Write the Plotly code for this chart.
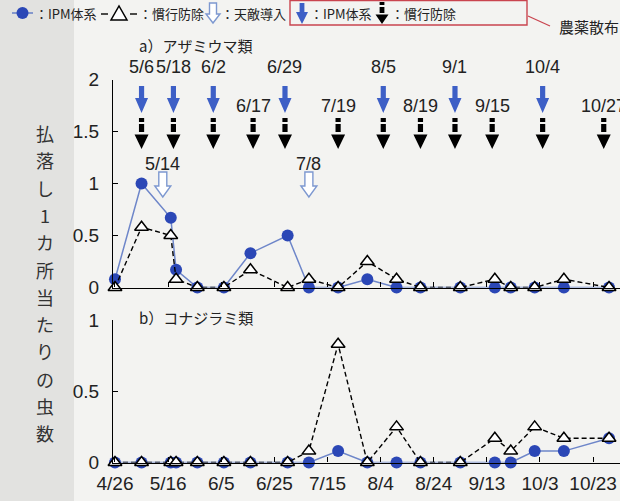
import plotly.graph_objects as go

YEAR = 2010
W, H = 620, 501


def d(md):
    m, dd = md.split("/")
    return f"{YEAR}-{int(m):02d}-{int(dd):02d}"


# ---------------- data ----------------
sample_dates = ["4/26", "5/6", "5/17", "5/19", "5/27", "6/6", "6/16", "6/30", "7/8", "7/19",
                "7/30", "8/10", "8/19", "9/3", "9/16", "9/22", "10/1", "10/12", "10/29"]

# a) thrips
thrips_ipm = [0.08, 1.0, 0.67, 0.17, 0, 0, 0.33, 0.5, 0, 0, 0.08, 0, 0, 0, 0, 0, 0, 0, 0]
thrips_conv = [0, 0.58, 0.5, 0.08, 0, 0, 0.17, 0, 0.08, 0, 0.25, 0.08, 0, 0, 0.08, 0, 0, 0.08, 0]
# b) whiteflies
wf_ipm = [0, 0, 0, 0, 0, 0, 0, 0, 0, 0.08, 0, 0, 0, 0, 0, 0, 0.08, 0.08, 0.17]
wf_conv = [0, 0, 0, 0, 0, 0, 0, 0, 0.08, 0.83, 0, 0.25, 0, 0, 0.17, 0.08, 0.25, 0.17, 0.17]

ipm_spray = ["5/6", "5/18", "6/2", "6/29", "8/5", "9/1", "10/4"]
conv_spray = ["5/6", "5/18", "6/2", "6/17", "6/29", "7/19", "8/5", "8/19", "9/1", "9/15", "10/4", "10/27"]
release_dates = ["5/14", "7/8"]

x_tick_labels = ["4/26", "5/16", "6/5", "6/25", "7/15", "8/4", "8/24", "9/13", "10/3", "10/23"]
ya_ticks = [0, 0.5, 1, 1.5, 2]
ya_text = ["0", "0.5", "1", "1.5", "2"]
yb_ticks = [0, 0.5, 1]
yb_text = ["0", "0.5", "1"]

legend_texts = ["：IPM体系", "：慣行防除", "：天敵導入", "：IPM体系", "：慣行防除"]
title_a = "a）アザミウマ類"
title_b = "b）コナジラミ類"
y_title = "払落し1カ所当たりの虫数"
note_text = "農薬散布"

# ---------------- style ----------------
IPM_DOT = "#2b47b6"
IPM_LINE = "#6e86c9"
ARROW_BLUE = "#3d5fc6"
OPEN_EDGE = "#7d98d0"
RED = "#c9444f"
BG = "#f3f3f1"
NUM_FONT = "Liberation Sans, Arial, Noto Sans CJK JP"
JP_FONT = "Noto Sans CJK JP, Liberation Sans"


def px(x):
    return x / W


def py(y):
    return 1 - y / H


X = [d(s) for s in sample_dates]

fig = go.Figure()

ipm_style = dict(mode="lines+markers", line=dict(color=IPM_LINE, width=1.5),
                 marker=dict(symbol="circle", size=12, color=IPM_DOT),
                 cliponaxis=False, showlegend=False, hoverinfo="skip")
conv_style = dict(mode="lines+markers", line=dict(color="black", width=1.4, dash="5px,3px"),
                  marker=dict(symbol="triangle-up", size=12, color="white",
                              line=dict(color="black", width=1.5)),
                  cliponaxis=False, showlegend=False, hoverinfo="skip")

# panel a (top): x2/y2
fig.add_trace(go.Scatter(x=X, y=thrips_ipm, xaxis="x2", yaxis="y2", **ipm_style))
fig.add_trace(go.Scatter(x=X, y=thrips_conv, xaxis="x2", yaxis="y2", **conv_style))
# panel b (bottom): x/y
fig.add_trace(go.Scatter(x=X, y=wf_ipm, xaxis="x", yaxis="y", **ipm_style))
fig.add_trace(go.Scatter(x=X, y=wf_conv, xaxis="x", yaxis="y", **conv_style))

x_range = [f"{YEAR}-04-25 06:00", f"{YEAR}-11-02 03:00"]
dom_x = [113 / W, 1]
dom_a = [(H - 287.5) / H, (H - 79.5) / H]
dom_b = [(H - 462.5) / H, (H - 320) / H]

axis_common = dict(showline=True, linecolor="black", linewidth=1.2, ticks="inside",
                   ticklen=5, tickwidth=1.1, tickcolor="black", showgrid=False,
                   zeroline=False, tickfont=dict(family=NUM_FONT, size=19, color="#222"))

fig.update_layout(
    width=W, height=H,
    margin=dict(l=0, r=0, t=0, b=0, autoexpand=False),
    paper_bgcolor=BG, plot_bgcolor=BG,
    xaxis=dict(domain=dom_x, anchor="y", type="date", range=x_range,
               tickvals=[d(t) for t in x_tick_labels], ticktext=x_tick_labels,
               ticklabelstandoff=4, **axis_common),
    yaxis=dict(domain=dom_b, anchor="x", range=[0, 1], tickvals=yb_ticks, ticktext=yb_text,
               ticklabelstandoff=9, **axis_common),
    xaxis2=dict(domain=dom_x, anchor="y2", type="date", range=x_range, matches="x",
                tickvals=[d(t) for t in x_tick_labels], showticklabels=False, **axis_common),
    yaxis2=dict(domain=dom_a, anchor="x2", range=[0, 2], tickvals=ya_ticks, ticktext=ya_text,
                ticklabelstandoff=9, **axis_common),
)

shapes = []
annotations = []

# scanned-paper grey strip at left
shapes.append(dict(type="rect", xref="paper", yref="paper", x0=0, x1=px(74), y0=0, y1=1,
                   fillcolor="#e2e2e0", line=dict(width=0), layer="below"))


def blue_arrow(top, shaft=12, head=15, sw=2.6, hw=6.5):
    y0, y1, y2 = -top, -(top + shaft), -(top + shaft + head)
    return (f"M{-sw},{y0} L{sw},{y0} L{sw},{y1} L{hw},{y1} L0,{y2} "
            f"L{-hw},{y1} L{-sw},{y1} Z")


def dotted_arrow(top, sw=2.6, hw=7):
    a0, a1 = -top, -(top + 4)
    b0, b1 = -(top + 6), -(top + 14)
    c0, c1 = -(top + 16.5), -(top + 31)
    return (f"M{-sw},{a0} L{sw},{a0} L{sw},{a1} L{-sw},{a1} Z "
            f"M{-sw},{b0} L{sw},{b0} L{sw},{b1} L{-sw},{b1} Z "
            f"M{-hw},{c0} L{hw},{c0} L0,{c1} Z")


def open_arrow(top, shaft=14, head=11, sw=4, hw=8):
    y0, y1, y2 = -top, -(top + shaft), -(top + shaft + head)
    return (f"M{-sw},{y0} L{sw},{y0} L{sw},{y1} L{hw},{y1} L0,{y2} "
            f"L{-hw},{y1} L{-sw},{y1} Z")


def data_icon(date, path, fill, edge, ew=0):
    return dict(type="path", xref="x2", yref="y2", xsizemode="pixel", ysizemode="pixel",
                xanchor=d(date), yanchor=2, path=path, fillcolor=fill,
                line=dict(color=edge, width=ew))


# spray / release arrows in panel a (anchored at y=2, offsets in pixels)
for s in ipm_spray:
    shapes.append(data_icon(s, blue_arrow(6.5), ARROW_BLUE, ARROW_BLUE, 0))
for s in conv_spray:
    shapes.append(data_icon(s, dotted_arrow(38.5), "black", "black", 0))
for s in release_dates:
    shapes.append(data_icon(s, open_arrow(92.5), "white", OPEN_EDGE, 1.4))

lab_font = dict(family=NUM_FONT, size=18, color="#222")
for s in conv_spray:
    if s in ipm_spray:
        annotations.append(dict(x=d(s), y=py(67), xref="x2", yref="paper", text=s,
                                showarrow=False, font=lab_font, xanchor="center",
                                yanchor="middle"))
    else:
        annotations.append(dict(x=d(s), y=1.745, xref="x2", yref="y2", text=s,
                                showarrow=False, font=lab_font, xanchor="center",
                                yanchor="middle"))
for s in release_dates:
    annotations.append(dict(x=d(s), y=1.19, xref="x2", yref="y2", text=s, showarrow=False,
                            font=lab_font, xanchor="center", yanchor="middle"))

# panel titles
annotations.append(dict(x=px(137), y=py(45), xref="paper", yref="paper", text=title_a,
                        showarrow=False, xanchor="left", yanchor="middle",
                        font=dict(family=JP_FONT, size=15, color="#222")))
annotations.append(dict(x=px(137), y=py(317), xref="paper", yref="paper", text=title_b,
                        showarrow=False, xanchor="left", yanchor="middle",
                        font=dict(family=JP_FONT, size=15, color="#222")))

# vertical y title (stacked characters, one annotation each)
for i, ch in enumerate(y_title):
    annotations.append(dict(x=px(45), y=py(133 + i * 27.3), xref="paper", yref="paper",
                            text=ch, showarrow=False, xanchor="center", yanchor="middle",
                            font=dict(family=JP_FONT, size=18, color="#333")))

# ---------------- legend row ----------------
LY = 13
leg_font = dict(family=JP_FONT, size=13, color="#222")


def paper_icon(xc, ytop, path, fill, edge, ew=0):
    return dict(type="path", xref="paper", yref="paper", xsizemode="pixel",
                ysizemode="pixel", xanchor=px(xc), yanchor=py(ytop), path=path,
                fillcolor=fill, line=dict(color=edge, width=ew))


# -●-
shapes.append(dict(type="line", xref="paper", yref="paper", x0=px(12), x1=px(33),
                   y0=py(LY), y1=py(LY), line=dict(color=IPM_LINE, width=1.6)))
shapes.append(dict(type="circle", xref="paper", yref="paper", x0=px(16.5), x1=px(28.5),
                   y0=py(LY + 6), y1=py(LY - 6), fillcolor=IPM_DOT, line=dict(width=0)))
annotations.append(dict(x=px(33), y=py(LY), xref="paper", yref="paper", text=legend_texts[0],
                        showarrow=False, xanchor="left", yanchor="middle", font=leg_font))
# -△-
for a, b in [(101, 108), (130, 137)]:
    shapes.append(dict(type="line", xref="paper", yref="paper", x0=px(a), x1=px(b),
                       y0=py(LY + 1), y1=py(LY + 1), line=dict(color="black", width=1.4)))
shapes.append(paper_icon(119, LY, "M-8,-7 L8,-7 L0,7 Z", "white", "black", 1.5))
annotations.append(dict(x=px(137), y=py(LY), xref="paper", yref="paper", text=legend_texts[1],
                        showarrow=False, xanchor="left", yanchor="middle", font=leg_font))
# open arrow
shapes.append(paper_icon(213, 3, open_arrow(0, shaft=11, head=9, sw=3.5, hw=7), "white",
                         OPEN_EDGE, 1.4))
annotations.append(dict(x=px(219), y=py(LY), xref="paper", yref="paper", text=legend_texts[2],
                        showarrow=False, xanchor="left", yanchor="middle", font=leg_font))
# red box
shapes.append(dict(type="rect", xref="paper", yref="paper", x0=px(290), x1=px(527),
                   y0=py(25), y1=py(0.5), line=dict(color=RED, width=1.4),
                   fillcolor="rgba(0,0,0,0)"))
shapes.append(paper_icon(302, 3, blue_arrow(0, shaft=9, head=12, sw=2.4, hw=6), ARROW_BLUE,
                         ARROW_BLUE, 0))
annotations.append(dict(x=px(308), y=py(LY), xref="paper", yref="paper", text=legend_texts[3],
                        showarrow=False, xanchor="left", yanchor="middle", font=leg_font))
shapes.append(paper_icon(382, 2, "M-2.4,0 L2.4,0 L2.4,-3 L-2.4,-3 Z M-2.4,-5 L2.4,-5 "
                              "L2.4,-11 L-2.4,-11 Z M-6.5,-12.5 L6.5,-12.5 L0,-22 Z",
                         "black", "black", 0))
annotations.append(dict(x=px(389), y=py(LY), xref="paper", yref="paper", text=legend_texts[4],
                        showarrow=False, xanchor="left", yanchor="middle", font=leg_font))
# red leader line and note
shapes.append(dict(type="line", xref="paper", yref="paper", x0=px(528), x1=px(550),
                   y0=py(16), y1=py(26), line=dict(color=RED, width=1.3)))
annotations.append(dict(x=px(557), y=py(27), xref="paper", yref="paper", text=note_text,
                        showarrow=False, xanchor="left", yanchor="middle",
                        font=dict(family=JP_FONT, size=15, color="#222")))

fig.update_layout(shapes=shapes, annotations=annotations)
fig.write_html("out.html", config={"displayModeBar": False},
               post_script="document.body.style.margin='0';document.body.style.padding='0';"
                           "document.documentElement.style.overflow='hidden';")
